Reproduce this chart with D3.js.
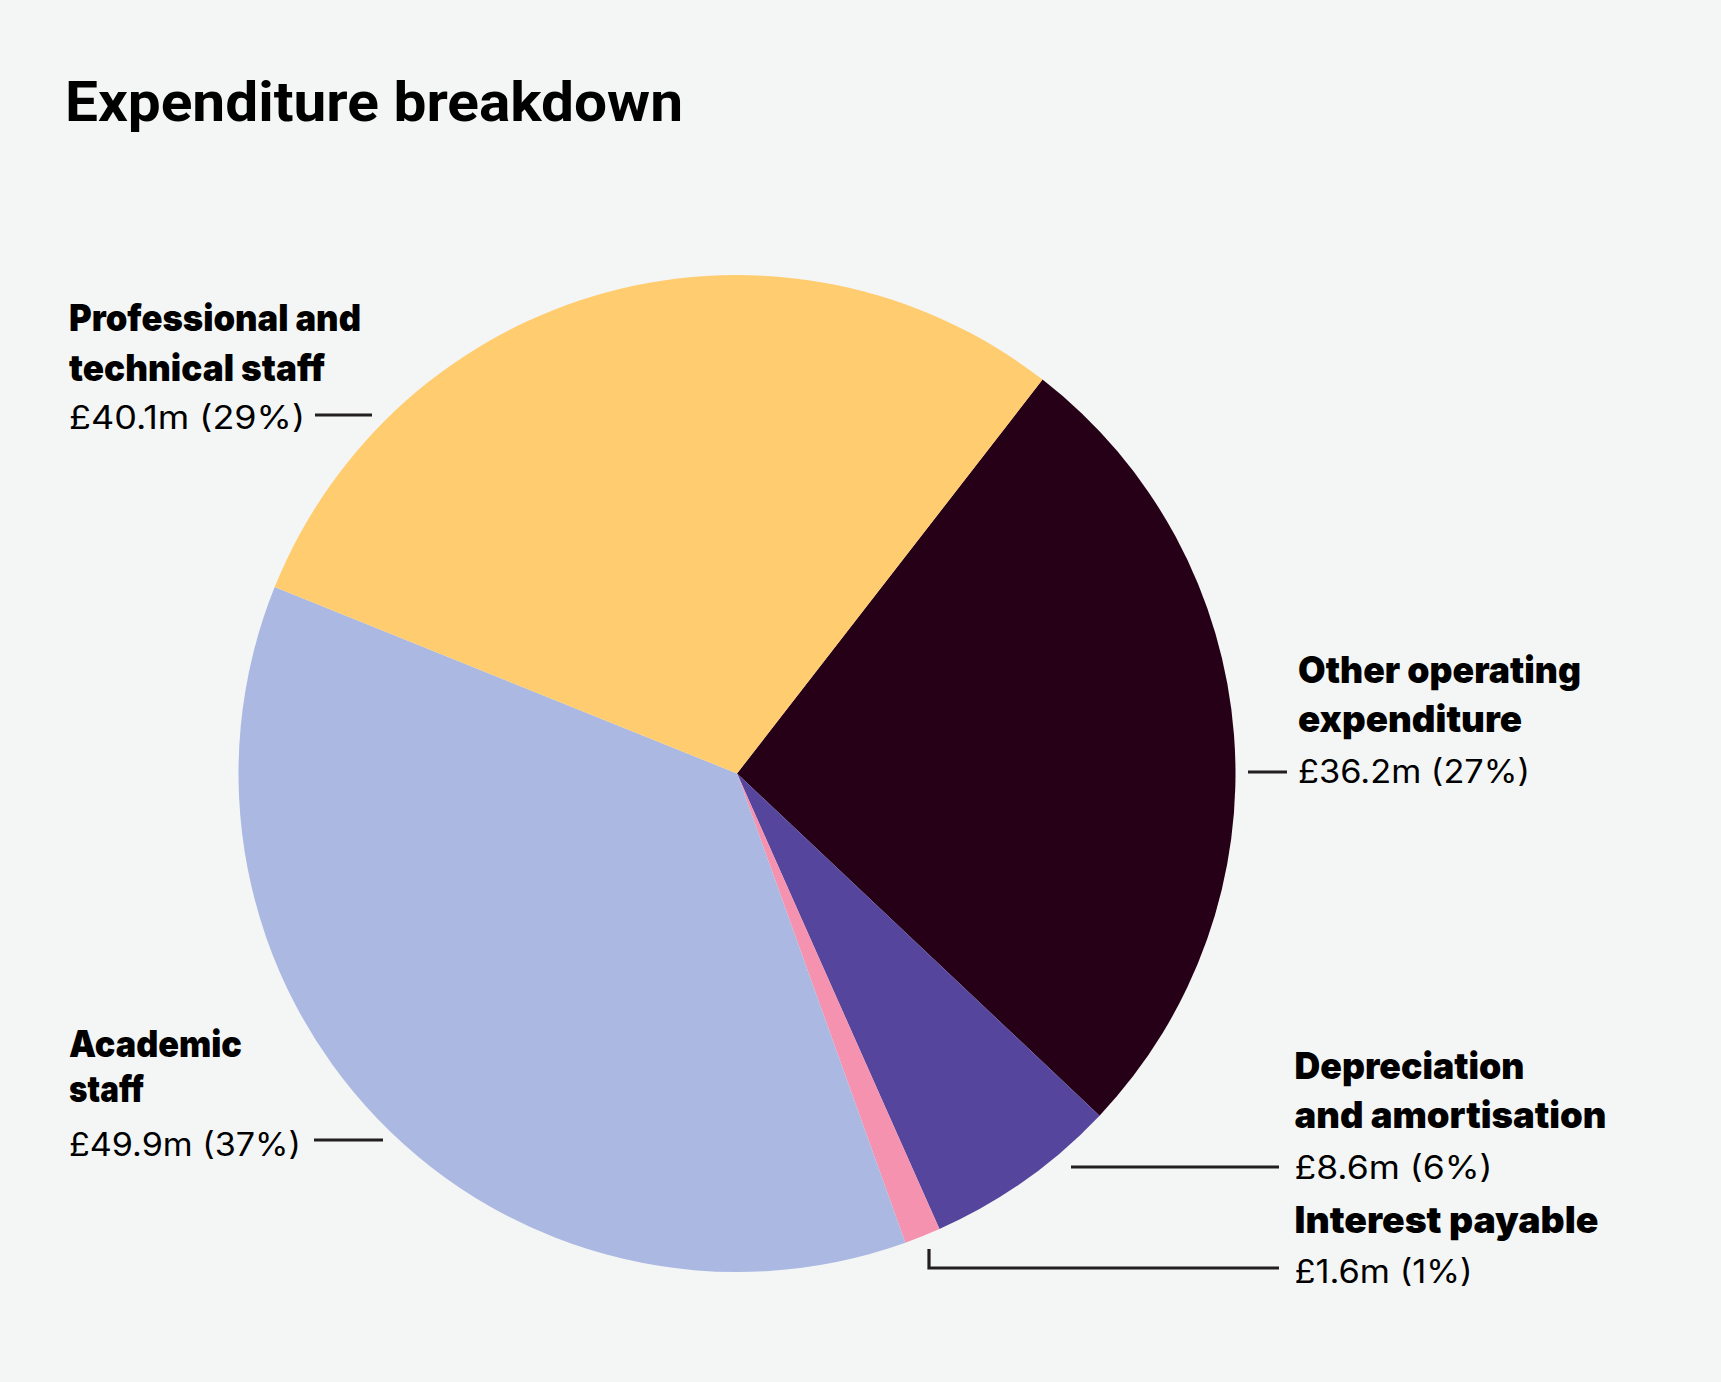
<!DOCTYPE html>
<html>
<head>
<meta charset="utf-8">
<script src="https://cdn.jsdelivr.net/npm/d3@7"></script>
<style>
  html, body { margin: 0; padding: 0; background: #F4F6F5; }
  svg { display: block; }
</style>
</head>
<body>
<svg id="chart" width="1721" height="1382"></svg>
<script>
// ---- data ----
const categories = [
  "Other operating expenditure",
  "Depreciation and amortisation",
  "Interest payable",
  "Academic staff",
  "Professional and technical staff"
];
const labelLines = [
  ["Other operating", "expenditure"],
  ["Depreciation", "and amortisation"],
  ["Interest payable"],
  ["Academic", "staff"],
  ["Professional and", "technical staff"]
];
const values = [36.2, 8.6, 1.6, 49.9, 40.1];
const colors = ["#260016", "#55459C", "#F592B0", "#AAB8E2", "#FFCC70"];
const title = "Expenditure breakdown";

// ---- layout (positions/sizes, kept separate from data) ----
const W = 1721, H = 1382;
const cx = 737, cy = 773.5, R = 498.5;
const startDeg = 37.8;
const layout = [
  { x: 1298, base: [683, 732], vbase: 783, widths: [283, 224], vw: 232,
    leader: [[1248, 772], [1287, 772]] },
  { x: 1294.5, base: [1079, 1128], vbase: 1179, widths: [230, 312], vw: 198,
    leader: [[1071, 1167], [1279, 1167]] },
  { x: 1294.5, base: [1233], vbase: 1283, widths: [304], vw: 178,
    leader: [[929, 1249], [929, 1268], [1279, 1268]] },
  { x: 69, base: [1057, 1102], vbase: 1156, widths: [173, 75], vw: 232,
    leader: [[314, 1140], [383, 1140]] },
  { x: 69, base: [331, 380.7], vbase: 429, widths: [292, 256], vw: 236,
    leader: [[315, 415], [372, 415]] }
];

const svg = d3.select("#chart");
svg.append("rect").attr("width", W).attr("height", H).attr("fill", "#F4F6F5");

// title
svg.append("text")
  .attr("x", 65).attr("y", 121)
  .attr("font-family", "Roboto, 'Liberation Sans', sans-serif")
  .attr("font-weight", 700)
  .attr("font-size", 55)
  .attr("fill", "#000")
  .attr("textLength", 618)
  .attr("lengthAdjust", "spacingAndGlyphs")
  .text(title);

// pie
const total = d3.sum(values);
const rad = d => d * Math.PI / 180;
const pie = d3.pie().sort(null).value(d => d)
  .startAngle(rad(startDeg)).endAngle(rad(startDeg) + 2 * Math.PI);
const arc = d3.arc().innerRadius(0).outerRadius(R);
const arcs = pie(values);

const g = svg.append("g").attr("transform", `translate(${cx},${cy})`);
g.selectAll("path").data(arcs).enter().append("path")
  .attr("d", arc)
  .attr("fill", (d, i) => colors[i]);

// leaders
const line = d3.line();
svg.selectAll("path.leader").data(layout).enter().append("path")
  .attr("class", "leader")
  .attr("d", d => line(d.leader))
  .attr("fill", "none")
  .attr("stroke", "#231F20")
  .attr("stroke-width", 3.2);

// labels
const fmt = v => `£${v}m (${Math.round(v / total * 100)}%)`;
categories.forEach((c, i) => {
  const L = layout[i];
  labelLines[i].forEach((t, j) => {
    svg.append("text")
      .attr("x", L.x).attr("y", L.base[j])
      .attr("font-family", "Inter, 'Noto Sans', sans-serif")
      .attr("font-weight", 900)
      .attr("font-size", 37)
      .attr("fill", "#000")
      .attr("textLength", L.widths[j])
      .attr("lengthAdjust", "spacingAndGlyphs")
      .text(t);
  });
  svg.append("text")
    .attr("x", L.x).attr("y", L.vbase)
    .attr("font-family", "Inter, 'Noto Sans', sans-serif")
    .attr("font-weight", 400)
    .attr("font-size", 32)
    .attr("fill", "#000")
    .attr("textLength", L.vw)
    .attr("lengthAdjust", "spacingAndGlyphs")
    .text(fmt(values[i]));
});
</script>
</body>
</html>
